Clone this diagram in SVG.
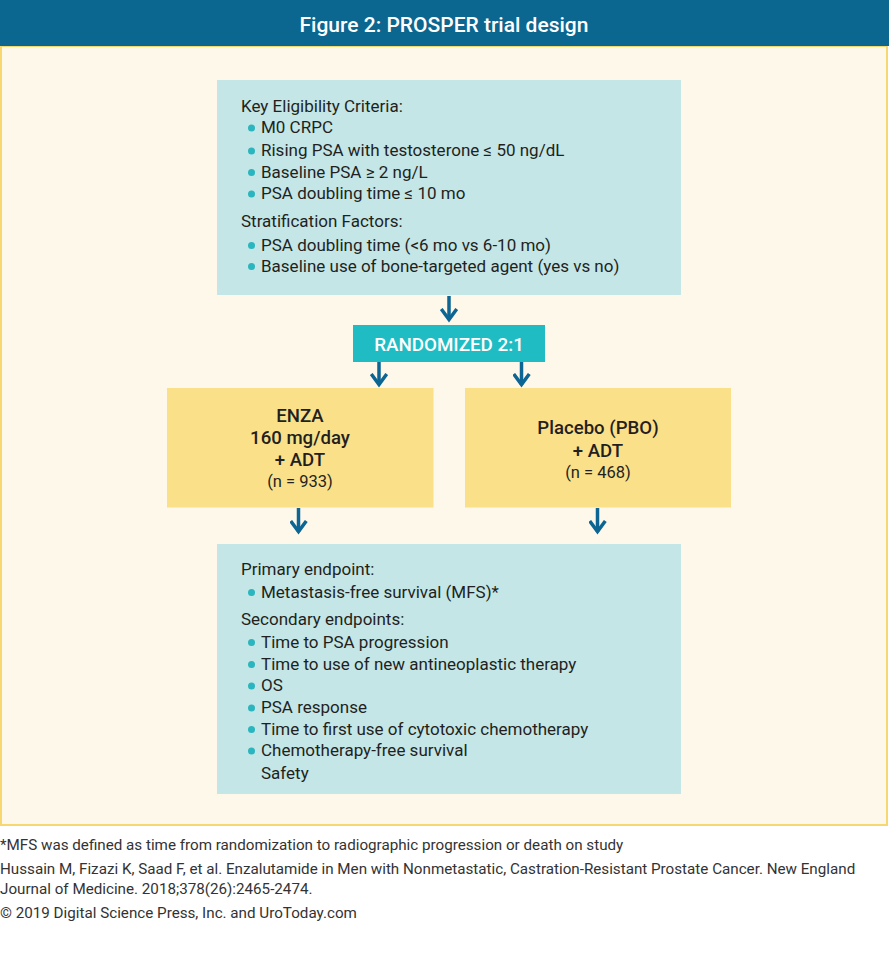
<svg xmlns="http://www.w3.org/2000/svg" width="889" height="956" viewBox="0 0 889 956">
<defs>
<style>
.t{font-family:Roboto,"Liberation Sans",sans-serif;fill:#231f20;font-size:17px}
.b{fill:#2bb5be}
.arm{font-family:Roboto,"Liberation Sans",sans-serif;fill:#231f20;text-anchor:middle}
.ft{font-family:Roboto,"Liberation Sans",sans-serif;fill:#333;font-size:15.2px}
.conn{stroke:#0d6593;stroke-width:3.5;fill:none}
</style>
<marker id="ah" markerUnits="userSpaceOnUse" markerWidth="15" markerHeight="18" refX="12.5" refY="9" orient="auto" viewBox="0 0 15 18">
<path d="M1.5,1.2 L12,9 L1.5,16.8" fill="none" stroke="#0d6593" stroke-width="3.5"/>
</marker>
</defs>
<rect width="889" height="956" fill="#ffffff"/>
<rect x="1" y="46" width="886" height="779" fill="#fef8eb" stroke="#f7d770" stroke-width="2"/>
<rect x="0" y="0" width="889" height="46" fill="#0b6690"/>
<text x="444" y="32" text-anchor="middle" font-family="Roboto,'Liberation Sans',sans-serif" font-size="21" font-weight="500" fill="#ffffff">Figure 2: PROSPER trial design</text>

<g id="eligibility">
<rect x="217" y="80" width="464" height="215" fill="#c4e6e7"/>
<text class="t" x="241" y="112">Key Eligibility Criteria:</text>
<circle class="b" cx="251.5" cy="128" r="3.5"/><text class="t" x="261" y="133">M0 CRPC</text>
<circle class="b" cx="251.5" cy="151" r="3.5"/><text class="t" x="261" y="156">Rising PSA with testosterone ≤ 50 ng/dL</text>
<circle class="b" cx="251.5" cy="172.5" r="3.5"/><text class="t" x="261" y="177.5">Baseline PSA ≥ 2 ng/L</text>
<circle class="b" cx="251.5" cy="194" r="3.5"/><text class="t" x="261" y="199">PSA doubling time ≤ 10 mo</text>
<text class="t" x="241" y="227">Stratification Factors:</text>
<circle class="b" cx="251.5" cy="245.5" r="3.5"/><text class="t" x="261" y="250.5">PSA doubling time (&lt;6 mo vs 6-10 mo)</text>
<circle class="b" cx="251.5" cy="266.5" r="3.5"/><text class="t" x="261" y="271.5">Baseline use of bone-targeted agent (yes vs no)</text>
</g>

<g id="randomized">
<rect x="353" y="325" width="192" height="37" fill="#20bcc4"/>
<text x="449" y="351" text-anchor="middle" font-family="Roboto,'Liberation Sans',sans-serif" font-size="18.8" font-weight="500" fill="#ffffff">RANDOMIZED 2:1</text>
</g>

<g id="enza">
<rect x="167" y="388" width="266.5" height="119.5" fill="#fbe08a"/>
<text class="arm" x="300" y="422" font-size="18.6" font-weight="500">ENZA</text>
<text class="arm" x="300" y="444" font-size="18.6" font-weight="500">160 mg/day</text>
<text class="arm" x="300" y="466" font-size="18.6" font-weight="500">+ ADT</text>
<text class="arm" x="300" y="487" font-size="16.5">(n = 933)</text>
</g>

<g id="placebo">
<rect x="465" y="388" width="266" height="119.5" fill="#fbe08a"/>
<text class="arm" x="598" y="433.5" font-size="18.6" font-weight="500">Placebo (PBO)</text>
<text class="arm" x="598" y="456.5" font-size="18.6" font-weight="500">+ ADT</text>
<text class="arm" x="598" y="477.5" font-size="16.5">(n = 468)</text>
</g>

<g id="endpoints">
<rect x="217" y="544" width="464" height="250" fill="#c4e6e7"/>
<text class="t" x="241" y="575">Primary endpoint:</text>
<circle class="b" cx="251.5" cy="592.5" r="3.5"/><text class="t" x="261" y="597.5">Metastasis-free survival (MFS)*</text>
<text class="t" x="241" y="625">Secondary endpoints:</text>
<circle class="b" cx="251.5" cy="642.5" r="3.5"/><text class="t" x="261" y="647.5">Time to PSA progression</text>
<circle class="b" cx="251.5" cy="664.5" r="3.5"/><text class="t" x="261" y="669.5">Time to use of new antineoplastic therapy</text>
<circle class="b" cx="251.5" cy="686" r="3.5"/><text class="t" x="261" y="691">OS</text>
<circle class="b" cx="251.5" cy="708" r="3.5"/><text class="t" x="261" y="713">PSA  response</text>
<circle class="b" cx="251.5" cy="729.5" r="3.5"/><text class="t" x="261" y="734.5">Time to first use of cytotoxic chemotherapy</text>
<circle class="b" cx="251.5" cy="751" r="3.5"/><text class="t" x="261" y="756">Chemotherapy-free survival</text>
<text class="t" x="261" y="778.5">Safety</text>
</g>

<g id="connectors">
<line class="conn" x1="449" y1="296" x2="449" y2="320" marker-end="url(#ah)"/>
<line class="conn" x1="379" y1="362" x2="379" y2="385" marker-end="url(#ah)"/>
<line class="conn" x1="521.5" y1="362" x2="521.5" y2="385" marker-end="url(#ah)"/>
<line class="conn" x1="298.5" y1="508" x2="298.5" y2="532" marker-end="url(#ah)"/>
<line class="conn" x1="597.5" y1="508" x2="597.5" y2="532" marker-end="url(#ah)"/>
</g>

<g id="footer">
<text class="ft" x="0" y="850">*MFS was defined as time from randomization to radiographic progression or death on study</text>
<text class="ft" x="0" y="874">Hussain M, Fizazi K, Saad F, et al. Enzalutamide in Men with Nonmetastatic, Castration-Resistant Prostate Cancer. New England</text>
<text class="ft" x="0" y="894">Journal of Medicine. 2018;378(26):2465-2474.</text>
<text class="ft" x="0" y="918">© 2019 Digital Science Press, Inc. and UroToday.com</text>
</g>
</svg>
